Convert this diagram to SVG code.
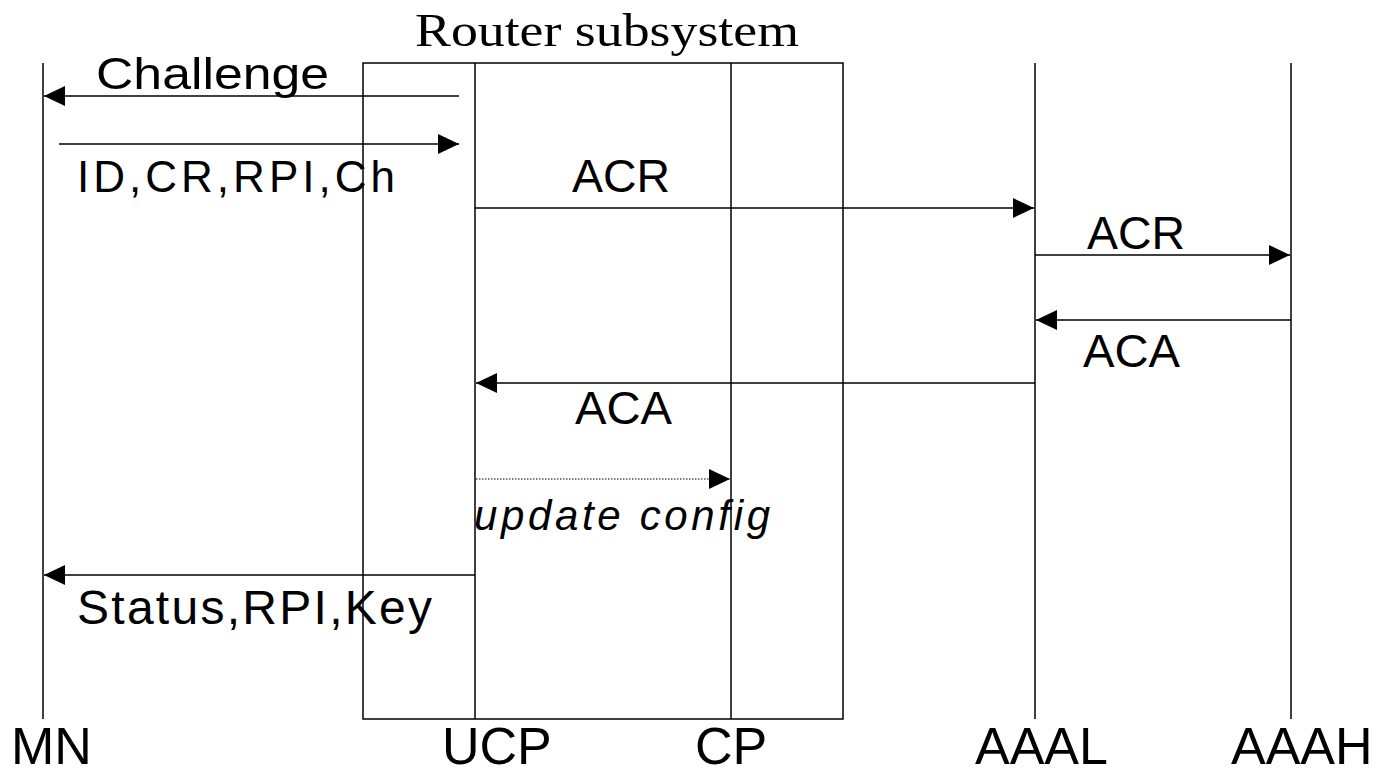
<svg xmlns="http://www.w3.org/2000/svg" width="1380" height="768" viewBox="0 0 1380 768">
  <style>
    .ln { stroke: #000; stroke-width: 1.5; fill: none; }
    .msg { stroke: #000; stroke-width: 1.5; fill: none; marker-end: url(#ah); }
    .dot { stroke: #000; stroke-width: 1.2; fill: none; stroke-dasharray: 1.5 1.5; marker-end: url(#ah); }
    .lbl { font-family: "Liberation Sans", Arial, sans-serif; fill: #000; }
    .ttl { font-family: "Liberation Serif", "Times New Roman", serif; fill: #000; }
  </style>
  <defs>
    <marker id="ah" viewBox="0 0 21 20" refX="21" refY="10" markerWidth="21" markerHeight="20" markerUnits="userSpaceOnUse" orient="auto">
      <path d="M0,0 L21,10 L0,20 Z" fill="#000" stroke="none"/>
    </marker>
  </defs>
  <rect width="1380" height="768" fill="#fff"/>

  <g id="router-subsystem">
    <rect class="ln" x="363" y="63" width="480" height="656"/>
    <text class="ttl" x="415" y="46" font-size="46" textLength="384" lengthAdjust="spacingAndGlyphs">Router subsystem</text>
  </g>
  <g id="MN">
    <line class="ln" x1="43" y1="63" x2="43" y2="719"/>
    <text class="lbl" x="11" y="764" font-size="52">MN</text>
  </g>
  <g id="UCP">
    <line class="ln" x1="475" y1="63" x2="475" y2="719"/>
    <text class="lbl" x="442" y="764" font-size="52">UCP</text>
  </g>
  <g id="CP">
    <line class="ln" x1="731" y1="63" x2="731" y2="719"/>
    <text class="lbl" x="695" y="764" font-size="52">CP</text>
  </g>
  <g id="AAAL">
    <line class="ln" x1="1035" y1="63" x2="1035" y2="719"/>
    <text class="lbl" x="975" y="764" font-size="52">AAAL</text>
  </g>
  <g id="AAAH">
    <line class="ln" x1="1291" y1="63" x2="1291" y2="719"/>
    <text class="lbl" x="1231" y="764" font-size="52">AAAH</text>
  </g>

  <g id="connectors">
    <line class="msg" x1="459" y1="96" x2="44" y2="96"/>
    <text class="lbl" x="96" y="89" font-size="45" textLength="233" lengthAdjust="spacingAndGlyphs">Challenge</text>

    <line class="msg" x1="59" y1="144" x2="459" y2="144"/>
    <text class="lbl" x="77" y="192" font-size="44" textLength="318" lengthAdjust="spacing">ID,CR,RPI,Ch</text>

    <line class="msg" x1="475" y1="208" x2="1034" y2="208"/>
    <text class="lbl" x="572" y="192" font-size="46" textLength="98" lengthAdjust="spacingAndGlyphs">ACR</text>

    <line class="msg" x1="1035" y1="255" x2="1290" y2="255"/>
    <text class="lbl" x="1087" y="249" font-size="46" textLength="98" lengthAdjust="spacingAndGlyphs">ACR</text>

    <line class="msg" x1="1291" y1="320" x2="1036" y2="320"/>
    <text class="lbl" x="1083" y="367" font-size="46" textLength="97" lengthAdjust="spacingAndGlyphs">ACA</text>

    <line class="msg" x1="1035" y1="383" x2="476" y2="383"/>
    <text class="lbl" x="575" y="424" font-size="46" textLength="97" lengthAdjust="spacingAndGlyphs">ACA</text>

    <line class="dot" x1="476" y1="479" x2="730" y2="479"/>
    <text class="lbl" x="474" y="530" font-size="42" font-style="italic" textLength="296" lengthAdjust="spacing">update config</text>

    <line class="msg" x1="475" y1="575" x2="44" y2="575"/>
    <text class="lbl" x="77" y="624" font-size="48" textLength="355" lengthAdjust="spacing">Status,RPI,Key</text>
  </g>
</svg>
